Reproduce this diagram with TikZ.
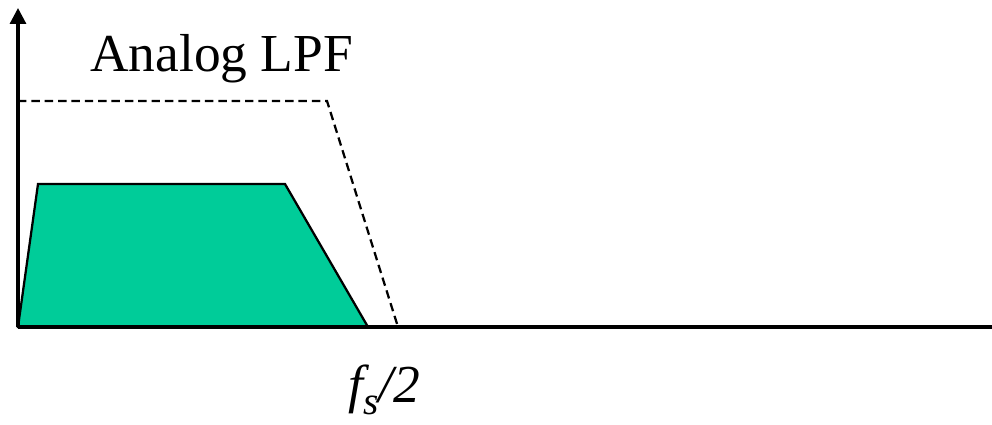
\documentclass[tikz,border=0pt]{standalone}
\usepackage{fontspec}
\setmainfont{Liberation Serif}
\usetikzlibrary{arrows.meta}
\definecolor{bandgreen}{RGB}{0,204,153}

\begin{document}
\begin{tikzpicture}[>={Triangle[length=0.4cm, width=0.4cm]},
    axis/.style={line width=2.2pt},
    lpf/.style={line width=1.6pt, dash pattern=on 6pt off 3.5pt},
    spectrum/.style={line width=1.6pt, fill=bandgreen, line join=miter},
    lbl/.style={font=\fontsize{38}{40}\selectfont, inner sep=0pt}]
  \useasboundingbox (0,0) rectangle (24.8,10.625);

  % Axis points
  \coordinate (origin) at (0.45, 2.45);
  \coordinate (ytop) at (0.45, 10.425);
  \coordinate (xend) at (24.8, 2.45);

  % Signal spectrum
  \coordinate (s1) at (0.95, 6.025);
  \coordinate (s2) at (7.125, 6.025);
  \coordinate (s3) at (9.2, 2.45);
  \draw[spectrum] (origin) -- (s1) -- (s2) -- (s3) -- cycle;

  % Analog LPF response
  \coordinate (f1) at (0.45, 8.1);
  \coordinate (f2) at (8.175, 8.1);
  \coordinate (f3) at (9.95, 2.45);
  \draw[lpf] (f1) -- (f2) -- (f3);

  % Axes
  \draw[axis, ->] (origin) -- (ytop);
  \draw[axis] (origin) -- (xend);

  % Labels
  \node[lbl, anchor=base west] (lpflabel) at (2.25, 8.825) {Analog LPF};
  \node[lbl, anchor=base west] (fslabel) at (8.7, 0.55)
    {\itshape f\raisebox{-0.22em}{\fontsize{28}{28}\selectfont s}/2};
\end{tikzpicture}
\end{document}
